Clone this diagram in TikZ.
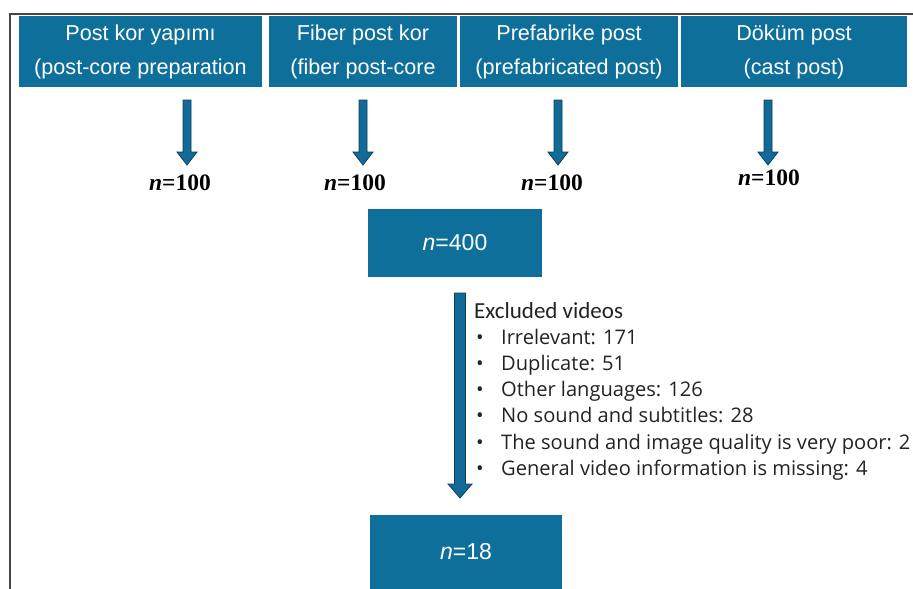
\documentclass[tikz,border=0pt]{standalone}
\usepackage{fontspec}
\setmainfont{Liberation Sans}
\newfontfamily\listfont{Open Sans}
\newfontfamily\titlefont{Carlito}
\newfontfamily\numfont{Liberation Serif}
\usetikzlibrary{calc}
\definecolor{boxblue}{RGB}{14,112,154}
\definecolor{arrowblue}{RGB}{18,106,150}
\definecolor{arrowedge}{RGB}{10,62,96}
\definecolor{framegray}{RGB}{70,70,70}
\definecolor{textdark}{RGB}{35,35,35}
\tikzset{
  topbox/.style={rectangle, fill=boxblue, text=white, minimum height=71pt, inner sep=0pt,
    align=center, font=\fontsize{21.6}{34}\selectfont},
  nbox/.style={rectangle, fill=boxblue, text=white, inner sep=0pt, font=\fontsize{23}{27}\selectfont},
  nlabel/.style={font=\numfont\bfseries\fontsize{23.5}{26}\selectfont, text=black, inner sep=0pt},
  arrowbody/.style={fill=arrowblue, draw=arrowedge, line width=0.8pt, line join=miter},
  listitem/.style={anchor=base west, inner sep=0pt, text=textdark, font=\listfont\fontsize{20.1}{23}\selectfont},
}
\newcommand\blockarrow[5]{% from, to, half shaft, half head, head length
  \filldraw[arrowbody] ($(#1)+(-#3,0)$) -- ($(#2)+(-#3,-#5)$) -- ($(#2)+(-#4,-#5)$) -- (#2)
    -- ($(#2)+(#4,-#5)$) -- ($(#2)+(#3,-#5)$) -- ($(#1)+(#3,0)$) -- cycle;}
\begin{document}
\begin{tikzpicture}[x=1pt,y=-1pt]
\useasboundingbox (0,0) rectangle (913,589);
\clip (0,0) rectangle (913,589);
\fill[white] (0,0) rectangle (913,589);
% top boxes
\node[topbox, minimum width=243pt] (b1) at (140.5,51.5) {Post kor yapımı\\(post-core preparation};
\node[topbox, minimum width=188pt] (b2) at (363,51.5) {Fiber post kor\\(fiber post-core};
\node[topbox, minimum width=218pt] (b3) at (569,51.5) {Prefabrike post\\(prefabricated post)};
\node[topbox, minimum width=226pt] (b4) at (794,51.5) {Döküm post\\(cast post)};
% frame
\draw[framegray, line width=1.6pt] (10,589) -- (10,14) -- (913,14);
% n=100 labels
\node[nlabel] (n1) at (180,183) {\textit{n}=100};
\node[nlabel] (n2) at (355,183) {\textit{n}=100};
\node[nlabel] (n3) at (552,183) {\textit{n}=100};
\node[nlabel] (n4) at (769,178) {\textit{n}=100};
% arrow ends
\coordinate (s1) at (187,100); \coordinate (t1) at (187,165);
\coordinate (s2) at (363,100); \coordinate (t2) at (363,165);
\coordinate (s3) at (558,100); \coordinate (t3) at (558,165);
\coordinate (s4) at (768,100); \coordinate (t4) at (768,165);
\blockarrow{s1}{t1}{4}{10}{13}
\blockarrow{s2}{t2}{4}{10}{13}
\blockarrow{s3}{t3}{4}{10}{13}
\blockarrow{s4}{t4}{4}{10}{13}
% n=400
\node[nbox, minimum width=174pt, minimum height=68pt] (n400) at (455,242.5) {\textit{n}=400};
% n=18
\node[nbox, minimum width=192pt, minimum height=74pt] (n18) at (466,552) {\textit{n}=18};
% long arrow
\coordinate (ls) at (460,293); \coordinate (lt) at (460,498);
\blockarrow{ls}{lt}{5.5}{12}{14}
% excluded list
\node[anchor=base west, inner sep=0pt, text=textdark, font=\titlefont\fontsize{23}{26}\selectfont] (ex) at (474,318) {Excluded videos};
\node[listitem] (e1) at (476,344) {\makebox[25pt][l]{\textbullet}Irrelevant: 171};
\node[listitem] (e2) at (476,370) {\makebox[25pt][l]{\textbullet}Duplicate: 51};
\node[listitem] (e3) at (476,396) {\makebox[25pt][l]{\textbullet}Other languages: 126};
\node[listitem] (e4) at (476,422) {\makebox[25pt][l]{\textbullet}No sound and subtitles: 28};
\node[listitem] (e5) at (476,449) {\makebox[25pt][l]{\textbullet}The sound and image quality is very poor: 2};
\node[listitem] (e6) at (476,475) {\makebox[25pt][l]{\textbullet}General video information is missing: 4};
\end{tikzpicture}
\end{document}
